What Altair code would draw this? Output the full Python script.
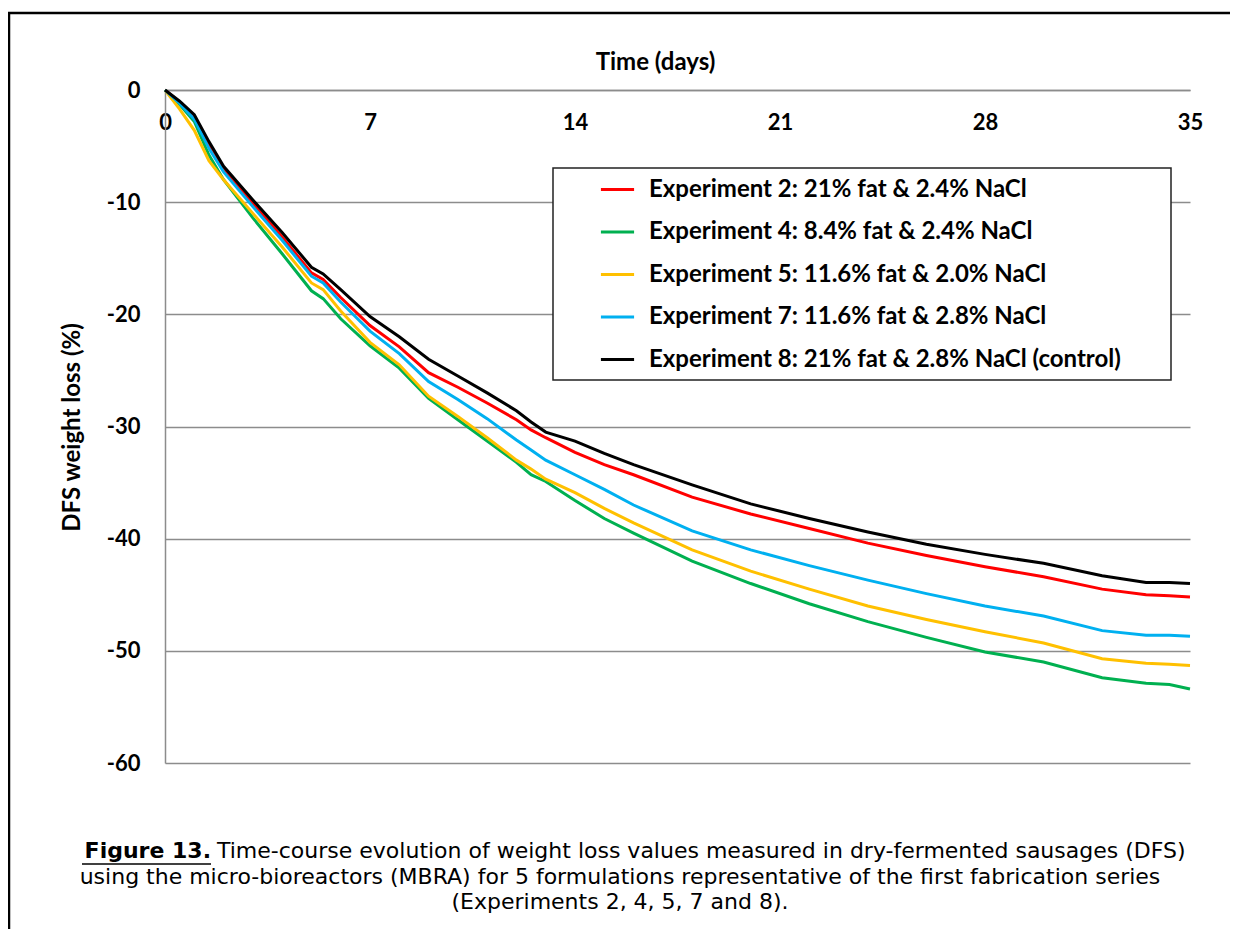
import altair as alt
import pandas as pd

days = [0, 0.5, 1, 1.5, 2, 3, 4, 5, 5.4, 6, 7, 8, 9, 10, 11, 12, 12.5, 13, 14, 15,
        16, 18, 20, 22, 24, 26, 28, 30, 32, 33.5, 34.3, 35]

exp2 = [0, -1.1, -2.4, -4.9, -7.0, -10.1, -13.1, -16.3, -16.9, -18.5, -21.0, -22.9, -25.2, -26.5,
        -27.9, -29.4, -30.3, -31.0, -32.3, -33.4, -34.3, -36.3, -37.8, -39.1, -40.4, -41.5,
        -42.5, -43.4, -44.5, -45.0, -45.1, -45.2]
exp4 = [0, -1.3, -2.8, -5.8, -8.0, -11.4, -14.6, -17.9, -18.6, -20.4, -22.8, -24.8, -27.5, -29.4,
        -31.3, -33.2, -34.3, -34.9, -36.6, -38.2, -39.5, -42.0, -44.0, -45.8, -47.4, -48.8,
        -50.1, -51.0, -52.4, -52.9, -53.0, -53.4]
exp5 = [0, -1.7, -3.6, -6.3, -8.0, -11.0, -14.0, -17.2, -17.8, -19.7, -22.5, -24.5, -27.3, -29.1,
        -31.0, -33.0, -33.8, -34.7, -35.9, -37.3, -38.6, -41.0, -42.9, -44.5, -46.0, -47.2,
        -48.3, -49.3, -50.7, -51.1, -51.2, -51.3]
exp7 = [0, -1.2, -2.6, -5.2, -7.3, -10.4, -13.4, -16.6, -17.2, -18.9, -21.5, -23.5, -26.0, -27.6,
        -29.3, -31.2, -32.1, -33.0, -34.3, -35.6, -37.0, -39.3, -41.0, -42.4, -43.7, -44.9,
        -46.0, -46.9, -48.2, -48.6, -48.6, -48.7]
exp8 = [0, -1.0, -2.2, -4.6, -6.8, -9.8, -12.7, -15.8, -16.4, -17.8, -20.2, -22.0, -24.0, -25.5,
        -27.0, -28.6, -29.6, -30.5, -31.3, -32.4, -33.4, -35.2, -36.9, -38.2, -39.4, -40.5,
        -41.4, -42.2, -43.3, -43.9, -43.9, -44.0]

series_names = [
    "Experiment 2: 21% fat & 2.4% NaCl",
    "Experiment 4: 8.4% fat & 2.4% NaCl",
    "Experiment 5: 11.6% fat & 2.0% NaCl",
    "Experiment 7: 11.6% fat & 2.8% NaCl",
    "Experiment 8: 21% fat & 2.8% NaCl (control)",
]
series_values = [exp2, exp4, exp5, exp7, exp8]
series_colors = ["#FF0000", "#00B050", "#FFC000", "#00B0F0", "#000000"]
series_widths = [3, 3, 3, 3, 4.5]

x_ticks = [0, 7, 14, 21, 28, 35]
y_ticks = [0, -10, -20, -30, -40, -50, -60]

rows = []
for name, vals in zip(series_names, series_values):
    for d, v in zip(days, vals):
        rows.append({"day": d, "loss": v, "series": name})
df = pd.DataFrame(rows)

W, H = 1025, 673
FONT = "Lato"
CAP_FONT = "DejaVu Sans"

x_enc = alt.X("day:Q", scale=alt.Scale(domain=[0, 35], nice=False),
              axis=alt.Axis(orient="top", values=x_ticks, title="Time (days)", grid=False,
                            ticks=False, tickSize=0, labelPadding=-32, labelBaseline="middle",
                            labelFont=FONT, labelFontSize=22, labelFontWeight="bold", labelColor="black",
                            titleFont=FONT, titleFontSize=24, titleFontWeight="bold", titleColor="black",
                            titleX=490, titleY=-28, titleBaseline="middle",
                            domainColor="#8c8c8c", domainWidth=1.5, labelFlush=False))
y_enc = alt.Y("loss:Q", scale=alt.Scale(domain=[-60, 0], nice=False),
              axis=alt.Axis(values=y_ticks, title="DFS weight loss (%)", grid=True,
                            labelExpr="'' + datum.value",
                            gridColor="#8c8c8c", gridWidth=1.5, ticks=False, labelPadding=25,
                            labelFont=FONT, labelFontSize=22, labelFontWeight="bold", labelColor="black",
                            titleFont=FONT, titleFontSize=24, titleFontWeight="bold", titleColor="black",
                            titleX=-93, titleY=337, titleBaseline="middle",
                            domainColor="#8c8c8c", domainWidth=1.5))

legend = alt.Legend(title=None, orient="none", legendX=434, legendY=81, symbolType="stroke",
                    symbolSize=1100, labelFont=FONT, labelFontSize=24, labelFontWeight="bold",
                    labelColor="black", labelOffset=13, rowPadding=11.5, padding=0,
                    labelLimit=700)

lines = alt.Chart(df).mark_line().encode(
    x=x_enc,
    y=y_enc,
    color=alt.Color("series:N", scale=alt.Scale(domain=series_names, range=series_colors), legend=legend),
    strokeWidth=alt.StrokeWidth("series:N", scale=alt.Scale(domain=series_names, range=series_widths), legend=legend),
    order=alt.Order("day:Q"),
)

legend_box = alt.Chart(pd.DataFrame({"a": [0]})).mark_rect(
    fill="white", stroke="#222222", strokeWidth=1.5
).encode(x=alt.value(388), x2=alt.value(1006), y=alt.value(78), y2=alt.value(290))

border = alt.Chart(pd.DataFrame({"a": [0]})).mark_rect(
    fill=None, stroke="black", strokeWidth=2.5
).encode(x=alt.value(-156), x2=alt.value(1200), y=alt.value(-77), y2=alt.value(1000))

caption_lines = [
    "Time-course evolution of weight loss values measured in dry-fermented sausages (DFS)",
    "using the micro-bioreactors (MBRA) for 5 formulations representative of the first fabrication series",
    "(Experiments 2, 4, 5, 7 and 8).",
]
CAP_SIZE = 22
SPLIT = 46
cap_bold = alt.Chart(pd.DataFrame({"t": ["Figure 13."]})).mark_text(
    font=CAP_FONT, fontSize=CAP_SIZE, fontWeight="bold", align="right", baseline="middle", color="black"
).encode(text="t:N", x=alt.value(SPLIT), y=alt.value(761))
underline = alt.Chart(pd.DataFrame({"a": [0]})).mark_rule(color="black", strokeWidth=1.5).encode(
    x=alt.value(SPLIT - 129), x2=alt.value(SPLIT), y=alt.value(774))
cap1 = alt.Chart(pd.DataFrame({"t": [caption_lines[0]]})).mark_text(
    font=CAP_FONT, fontSize=CAP_SIZE, align="left", baseline="middle", color="black"
).encode(text="t:N", x=alt.value(SPLIT + 6), y=alt.value(761))
cap2 = alt.Chart(pd.DataFrame({"t": [caption_lines[1]]})).mark_text(
    font=CAP_FONT, fontSize=CAP_SIZE, align="center", baseline="middle", color="black"
).encode(text="t:N", x=alt.value(455), y=alt.value(787))
cap3 = alt.Chart(pd.DataFrame({"t": [caption_lines[2]]})).mark_text(
    font=CAP_FONT, fontSize=CAP_SIZE, align="center", baseline="middle", color="black"
).encode(text="t:N", x=alt.value(455), y=alt.value(812))

chart = alt.layer(lines, legend_box, border, cap_bold, underline, cap1, cap2, cap3).properties(
    width=W, height=H,
    autosize=alt.AutoSizeParams(type="none"),
    padding={"left": 157, "top": 82, "right": 40, "bottom": 166},
    background="white",
).configure_view(stroke=None)

chart.save("out.html", embed_options={"renderer": "svg", "actions": False})
